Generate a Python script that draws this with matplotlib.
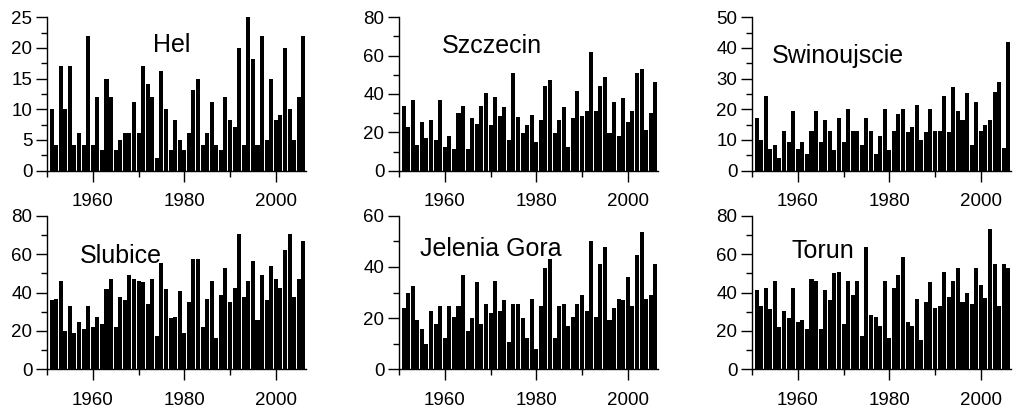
import numpy as np
import matplotlib
matplotlib.use("Agg")
import matplotlib.pyplot as plt
from matplotlib.ticker import MultipleLocator

plt.rcParams['font.family'] = ['Liberation Sans', 'DejaVu Sans']

years = list(range(1951, 2007))

hel = [10, 4.2, 17, 10, 17, 4.2, 6.2, 4.2, 22, 4.2,
       12, 3.3, 15, 12, 3.3, 5, 6.2, 6.2, 11.2, 6.2,
       17, 14.2, 12, 2, 16.2, 10, 3.3, 8.3, 5, 3.3,
       6.2, 13.2, 15, 4.2, 6.2, 11.2, 4.2, 3.3, 12, 8.3,
       7.1, 20, 4.2, 25, 18.2, 4.2, 22, 5, 15, 8.3,
       9.1, 20, 10, 5, 12, 22]

szczecin = [33.7, 22.6, 36.9, 13.2, 25.4, 17, 26.4, 16, 36.9, 12.5,
            18, 11.5, 30, 33.7, 11.5, 27.5, 24.5, 33.7, 40.3, 23.6,
            38.6, 28.3, 33, 16, 50.8, 28.2, 19.8, 23.6, 29.2, 15.1,
            26.4, 44.2, 47.1, 19.8, 26.4, 33, 12.5, 27.5, 41.6, 28.3,
            31.1, 62, 31.1, 44.2, 49, 19.8, 35.8, 18, 37.7, 25.4,
            31.1, 50.8, 53, 21, 30, 46]

swinoujscie = [17.3, 10.1, 24.3, 7.2, 8.3, 4.2, 13, 9.5, 19.6, 7.2,
               9.5, 5.5, 13, 19.6, 9.5, 16.6, 13, 6.6, 17.3, 9.5,
               20.2, 13, 13, 8.3, 17.3, 13, 5.5, 11.4, 20.2, 6.6,
               13, 18.4, 20.2, 12.5, 14.2, 21.3, 10.1, 12.5, 20.2, 13,
               13, 24.3, 12.5, 27.2, 19.6, 16.6, 25.4, 8.3, 22.5, 13,
               15, 16.5, 25.5, 29, 7.5, 42]

slubice = [35.9, 36.8, 46.2, 20, 33, 18.9, 24.7, 20.8, 33, 21.9,
           27.4, 23.6, 41.7, 47.2, 21.9, 37.7, 35.9, 49, 47.2, 46.2,
           45.3, 34, 47.2, 17.2, 55.6, 41.7, 26.6, 27.4, 40.6, 19.1,
           35, 57.5, 57.5, 21.9, 36.8, 46.2, 16.3, 38.7, 52.8, 35,
           42.5, 70.7, 37.8, 46.2, 56.6, 25.5, 49, 35.9, 53.8, 47.2,
           42.5, 62, 70.7, 37.8, 47.2, 67]

jelenia_gora = [24.1, 29.7, 32.6, 19.1, 15.6, 10, 22.7, 17.7, 24.7, 12.1,
                24.7, 20.6, 24.7, 36.7, 15, 19.9, 34, 17.7, 25.5, 22,
                34.6, 22.7, 27, 10.7, 25.5, 25.5, 19.9, 12.1, 27.6, 7.9,
                24.7, 39.6, 43.1, 12.1, 24.7, 25.5, 17.1, 20.6, 25.5, 29,
                22.7, 50.1, 20.6, 41, 48, 19.1, 24.1, 27.6, 27, 36.1,
                24.7, 44.5, 53.5, 27.5, 29, 41]

torun = [41.5, 33, 42.4, 31.3, 46.2, 21.9, 30.2, 26.6, 42.4, 24.7,
         25.5, 20.8, 47.2, 46.2, 20.8, 41.5, 35.9, 50, 50.9, 23.6,
         46.2, 38.7, 46.2, 17.2, 64, 28.3, 27.4, 22.7, 46.2, 16.1,
         42.4, 49, 58.3, 24.7, 22.7, 36.8, 15.3, 35, 45.3, 32.1,
         33, 50.9, 37.7, 46.2, 52.8, 35, 39.6, 34, 52.8, 44,
         37, 73, 55, 33, 55, 53]

stations = ["Hel", "Szczecin", "Swinoujscie", "Slubice", "Jelenia Gora", "Torun"]
series = [hel, szczecin, swinoujscie, slubice, jelenia_gora, torun]
ymax = [25, 80, 50, 80, 60, 80]
ystep = [5, 20, 10, 20, 20, 20]
# label position (axes fraction, baseline)
label_pos = [(0.483, 0.774), (0.358, 0.769), (0.332, 0.704),
             (0.286, 0.692), (0.356, 0.738), (0.272, 0.723)]

fig = plt.figure(figsize=(10.24, 4.12), dpi=100)

lefts = [47 / 1024, 399 / 1024, 752 / 1024]
bottoms = [(412 - 170.7) / 412, (412 - 369.3) / 412]
w = 259 / 1024
h = 153.5 / 412

for i, (name, vals) in enumerate(zip(stations, series)):
    ax = fig.add_axes([lefts[i % 3], bottoms[i // 3], w, h])
    ax.bar(years, vals, width=0.88, color='black', linewidth=0)
    ax.set_xlim(1950, 2006.6)
    ax.set_ylim(0, ymax[i])
    ax.spines['top'].set_visible(False)
    ax.spines['right'].set_visible(False)
    for s in ['left', 'bottom']:
        ax.spines[s].set_linewidth(1.0)
    ax.set_xticks([1960, 1980, 2000])
    ax.xaxis.set_minor_locator(MultipleLocator(10))
    ax.yaxis.set_major_locator(MultipleLocator(ystep[i]))
    ax.yaxis.set_minor_locator(MultipleLocator(ystep[i] / 2))
    ax.tick_params(which='major', direction='out', length=8, width=1.0,
                   labelsize=13.5)
    ax.tick_params(which='minor', direction='out', length=4, width=1.0)
    ax.tick_params(axis='x', which='major', pad=8)
    ax.tick_params(axis='y', which='major', pad=2.5)
    ax.text(label_pos[i][0], label_pos[i][1], name, transform=ax.transAxes,
            ha='center', va='baseline', fontsize=18)

plt.savefig('out.png', dpi=100)
